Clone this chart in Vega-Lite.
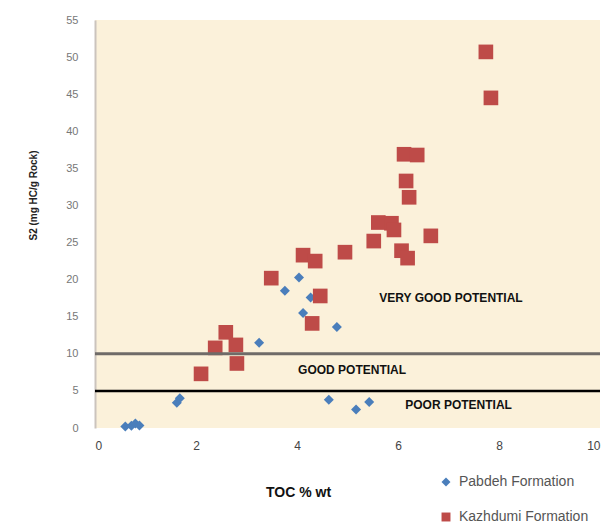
{
  "$schema": "https://vega.github.io/schema/vega-lite/v6.json",
  "width": 505,
  "height": 408,
  "autosize": {"type": "none"},
  "padding": {"left": 95, "top": 20, "right": 15, "bottom": 96},
  "background": "#ffffff",
  "config": {
    "view": {"fill": "#fbf1da", "stroke": null},
    "font": "Liberation Sans",
    "axis": {"labelOverlap": false}
  },
  "datasets": {
    "samples": [
      {"formation": "Pabdeh Formation", "toc": 0.6, "s2": 0.2},
      {"formation": "Pabdeh Formation", "toc": 0.72, "s2": 0.3},
      {"formation": "Pabdeh Formation", "toc": 0.8, "s2": 0.6},
      {"formation": "Pabdeh Formation", "toc": 0.88, "s2": 0.35},
      {"formation": "Pabdeh Formation", "toc": 1.62, "s2": 3.4},
      {"formation": "Pabdeh Formation", "toc": 1.68, "s2": 4.0},
      {"formation": "Pabdeh Formation", "toc": 3.25, "s2": 11.5},
      {"formation": "Pabdeh Formation", "toc": 3.76, "s2": 18.5},
      {"formation": "Pabdeh Formation", "toc": 4.04, "s2": 20.3},
      {"formation": "Pabdeh Formation", "toc": 4.27, "s2": 17.6},
      {"formation": "Pabdeh Formation", "toc": 4.12, "s2": 15.5},
      {"formation": "Pabdeh Formation", "toc": 4.79, "s2": 13.6},
      {"formation": "Pabdeh Formation", "toc": 4.63, "s2": 3.8},
      {"formation": "Pabdeh Formation", "toc": 5.17, "s2": 2.5},
      {"formation": "Pabdeh Formation", "toc": 5.43, "s2": 3.5},
      {"formation": "Kazhdumi Formation", "toc": 7.74, "s2": 50.7},
      {"formation": "Kazhdumi Formation", "toc": 7.84, "s2": 44.5},
      {"formation": "Kazhdumi Formation", "toc": 6.12, "s2": 36.9},
      {"formation": "Kazhdumi Formation", "toc": 6.38, "s2": 36.8},
      {"formation": "Kazhdumi Formation", "toc": 6.16, "s2": 33.3},
      {"formation": "Kazhdumi Formation", "toc": 6.22, "s2": 31.1},
      {"formation": "Kazhdumi Formation", "toc": 5.61, "s2": 27.7},
      {"formation": "Kazhdumi Formation", "toc": 5.87, "s2": 27.6},
      {"formation": "Kazhdumi Formation", "toc": 5.92, "s2": 26.7},
      {"formation": "Kazhdumi Formation", "toc": 5.52, "s2": 25.2},
      {"formation": "Kazhdumi Formation", "toc": 6.65, "s2": 25.9},
      {"formation": "Kazhdumi Formation", "toc": 6.07, "s2": 23.9},
      {"formation": "Kazhdumi Formation", "toc": 6.19, "s2": 22.9},
      {"formation": "Kazhdumi Formation", "toc": 4.12, "s2": 23.3},
      {"formation": "Kazhdumi Formation", "toc": 4.36, "s2": 22.5},
      {"formation": "Kazhdumi Formation", "toc": 4.95, "s2": 23.7},
      {"formation": "Kazhdumi Formation", "toc": 3.49, "s2": 20.2},
      {"formation": "Kazhdumi Formation", "toc": 4.46, "s2": 17.8},
      {"formation": "Kazhdumi Formation", "toc": 4.3, "s2": 14.1},
      {"formation": "Kazhdumi Formation", "toc": 2.59, "s2": 12.9},
      {"formation": "Kazhdumi Formation", "toc": 2.38, "s2": 10.8},
      {"formation": "Kazhdumi Formation", "toc": 2.79, "s2": 11.2},
      {"formation": "Kazhdumi Formation", "toc": 2.81, "s2": 8.7},
      {"formation": "Kazhdumi Formation", "toc": 2.1, "s2": 7.3}
    ],
    "zones": [
      {"label": "VERY GOOD POTENTIAL", "toc": 7.05, "s2": 17.5},
      {"label": "GOOD POTENTIAL", "toc": 5.09, "s2": 7.8},
      {"label": "POOR POTENTIAL", "toc": 7.2, "s2": 3.1}
    ],
    "thresholds": [
      {"level": "good", "s2": 10},
      {"level": "poor", "s2": 5}
    ]
  },
  "encoding": {
    "y": {
      "field": "s2", "type": "quantitative",
      "scale": {"domain": [0, 55], "nice": false},
      "axis": {
        "values": [0, 5, 10, 15, 20, 25, 30, 35, 40, 45, 50, 55],
        "grid": false, "ticks": false, "labelOverlap": false,
        "domain": true, "domainColor": "#cbc4bd", "domainWidth": 2,
        "labelFontSize": 11, "labelColor": "#777777", "labelPadding": 17,
        "title": "S2  (mg HC/g Rock)",
        "titleFontSize": 10, "titleFontWeight": "bold", "titleColor": "#222222",
        "titleX": -62, "titleY": 175, "titleAlign": "center", "titleBaseline": "middle"
      }
    }
  },
  "layer": [
    {
      "data": {"name": "samples"},
      "mark": {"type": "point", "filled": true, "opacity": 1},
      "encoding": {
        "x": {
          "field": "toc", "type": "quantitative",
          "scale": {"domain": [0, 10], "nice": false, "zero": true},
          "axis": {
            "values": [0, 2, 4, 6, 8, 10],
            "grid": false, "ticks": false, "domain": false, "labelOverlap": false,
            "labelFontSize": 12, "labelColor": "#444444", "labelPadding": 12,
            "title": "TOC  % wt",
            "titleFontSize": 14, "titleFontWeight": "bold", "titleColor": "#111111",
            "titleX": 203, "titleY": 64, "titleAlign": "center", "titleBaseline": "middle"
          }
        },
        "color": {
          "field": "formation", "type": "nominal",
          "scale": {"domain": ["Pabdeh Formation", "Kazhdumi Formation"], "range": ["#4a7ebb", "#be4b48"]},
          "legend": {
            "title": null, "orient": "none", "legendX": 344, "legendY": 455,
            "labelFontSize": 14, "labelColor": "#555555", "rowPadding": 21,
            "symbolSize": 80, "labelOffset": 6, "padding": 0, "labelLimit": 200
          }
        },
        "shape": {
          "field": "formation", "type": "nominal",
          "scale": {"domain": ["Pabdeh Formation", "Kazhdumi Formation"], "range": ["diamond", "square"]}
        },
        "size": {
          "condition": {"test": "datum.formation === 'Kazhdumi Formation'", "value": 215},
          "value": 100
        }
      }
    },
    {
      "data": {"name": "thresholds"},
      "transform": [{"filter": "datum.level === 'good'"}],
      "mark": {"type": "rule", "color": "#6f6b68", "strokeWidth": 3},
      "encoding": {}
    },
    {
      "data": {"name": "thresholds"},
      "transform": [{"filter": "datum.level === 'poor'"}],
      "mark": {"type": "rule", "color": "#000000", "strokeWidth": 2.5},
      "encoding": {}
    },
    {
      "data": {"name": "zones"},
      "mark": {"type": "text", "fontSize": 12, "fontWeight": "bold", "color": "#111111", "align": "center", "baseline": "middle"},
      "encoding": {
        "x": {
          "field": "toc", "type": "quantitative",
          "scale": {"domain": [0, 10], "nice": false, "zero": true},
          "axis": {
            "values": [0, 2, 4, 6, 8, 10],
            "grid": false, "ticks": false, "domain": false, "labelOverlap": false,
            "labelFontSize": 12, "labelColor": "#444444", "labelPadding": 12,
            "title": "TOC  % wt",
            "titleFontSize": 14, "titleFontWeight": "bold", "titleColor": "#111111",
            "titleX": 203, "titleY": 64, "titleAlign": "center", "titleBaseline": "middle"
          }
        },
        "text": {"field": "label"}
      }
    }
  ]
}
